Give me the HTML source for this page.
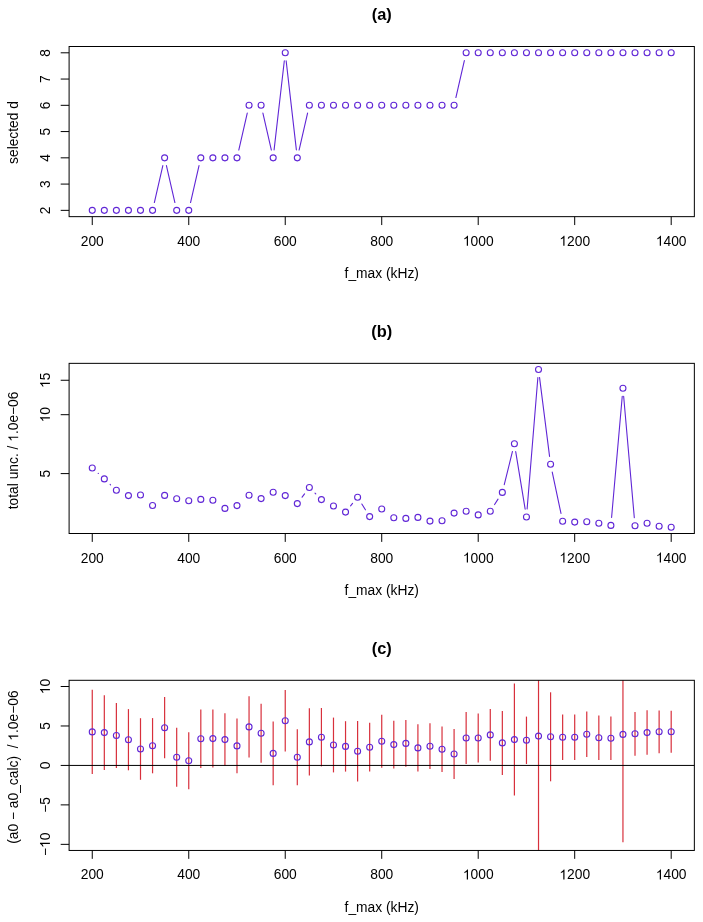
<!DOCTYPE html>
<html><head><meta charset="utf-8"><style>
html,body{margin:0;padding:0;background:#fff;width:703px;height:922px;overflow:hidden}
svg{display:block;will-change:transform}
text{font-family:"Liberation Sans",sans-serif}
</style></head><body>
<svg width="703" height="922" viewBox="0 0 703 922">
<rect width="703" height="922" fill="#fff"/>
<g stroke="#6026d6" stroke-width="1.1" fill="none" stroke-linecap="round">
<line x1="154.35" y1="202.55" x2="162.83" y2="165.63"/>
<line x1="166.42" y1="165.63" x2="174.89" y2="202.55"/>
<line x1="190.54" y1="202.55" x2="199.02" y2="165.63"/>
<line x1="238.78" y1="150.04" x2="247.26" y2="113.11"/>
<line x1="262.9" y1="113.11" x2="271.38" y2="150.04"/>
<line x1="274.09" y1="149.88" x2="284.32" y2="60.75"/>
<line x1="286.15" y1="60.75" x2="296.38" y2="149.88"/>
<line x1="299.09" y1="150.04" x2="307.57" y2="113.11"/>
<line x1="455.88" y1="97.52" x2="464.36" y2="60.6"/>
<circle cx="92.26" cy="210.35" r="3.0"/>
<circle cx="104.32" cy="210.35" r="3.0"/>
<circle cx="116.38" cy="210.35" r="3.0"/>
<circle cx="128.44" cy="210.35" r="3.0"/>
<circle cx="140.5" cy="210.35" r="3.0"/>
<circle cx="152.56" cy="210.35" r="3.0"/>
<circle cx="164.62" cy="157.83" r="3.0"/>
<circle cx="176.69" cy="210.35" r="3.0"/>
<circle cx="188.75" cy="210.35" r="3.0"/>
<circle cx="200.81" cy="157.83" r="3.0"/>
<circle cx="212.87" cy="157.83" r="3.0"/>
<circle cx="224.93" cy="157.83" r="3.0"/>
<circle cx="236.99" cy="157.83" r="3.0"/>
<circle cx="249.05" cy="105.32" r="3.0"/>
<circle cx="261.11" cy="105.32" r="3.0"/>
<circle cx="273.17" cy="157.83" r="3.0"/>
<circle cx="285.24" cy="52.8" r="3.0"/>
<circle cx="297.3" cy="157.83" r="3.0"/>
<circle cx="309.36" cy="105.32" r="3.0"/>
<circle cx="321.42" cy="105.32" r="3.0"/>
<circle cx="333.48" cy="105.32" r="3.0"/>
<circle cx="345.54" cy="105.32" r="3.0"/>
<circle cx="357.6" cy="105.32" r="3.0"/>
<circle cx="369.66" cy="105.32" r="3.0"/>
<circle cx="381.73" cy="105.32" r="3.0"/>
<circle cx="393.79" cy="105.32" r="3.0"/>
<circle cx="405.85" cy="105.32" r="3.0"/>
<circle cx="417.91" cy="105.32" r="3.0"/>
<circle cx="429.97" cy="105.32" r="3.0"/>
<circle cx="442.03" cy="105.32" r="3.0"/>
<circle cx="454.09" cy="105.32" r="3.0"/>
<circle cx="466.15" cy="52.8" r="3.0"/>
<circle cx="478.21" cy="52.8" r="3.0"/>
<circle cx="490.28" cy="52.8" r="3.0"/>
<circle cx="502.34" cy="52.8" r="3.0"/>
<circle cx="514.4" cy="52.8" r="3.0"/>
<circle cx="526.46" cy="52.8" r="3.0"/>
<circle cx="538.52" cy="52.8" r="3.0"/>
<circle cx="550.58" cy="52.8" r="3.0"/>
<circle cx="562.64" cy="52.8" r="3.0"/>
<circle cx="574.7" cy="52.8" r="3.0"/>
<circle cx="586.76" cy="52.8" r="3.0"/>
<circle cx="598.83" cy="52.8" r="3.0"/>
<circle cx="610.89" cy="52.8" r="3.0"/>
<circle cx="622.95" cy="52.8" r="3.0"/>
<circle cx="635.01" cy="52.8" r="3.0"/>
<circle cx="647.07" cy="52.8" r="3.0"/>
<circle cx="659.13" cy="52.8" r="3.0"/>
<circle cx="671.19" cy="52.8" r="3.0"/>
</g>
<rect x="69.1" y="46.5" width="625.25" height="170.15" fill="none" stroke="#000" stroke-width="1.0"/>
<g stroke="#000" stroke-width="1">
<line x1="92.26" y1="216.65" x2="92.26" y2="225.05"/>
<line x1="188.75" y1="216.65" x2="188.75" y2="225.05"/>
<line x1="285.24" y1="216.65" x2="285.24" y2="225.05"/>
<line x1="381.73" y1="216.65" x2="381.73" y2="225.05"/>
<line x1="478.21" y1="216.65" x2="478.21" y2="225.05"/>
<line x1="574.7" y1="216.65" x2="574.7" y2="225.05"/>
<line x1="671.19" y1="216.65" x2="671.19" y2="225.05"/>
<line x1="60.7" y1="210.35" x2="69.1" y2="210.35"/>
<line x1="60.7" y1="184.09" x2="69.1" y2="184.09"/>
<line x1="60.7" y1="157.83" x2="69.1" y2="157.83"/>
<line x1="60.7" y1="131.57" x2="69.1" y2="131.57"/>
<line x1="60.7" y1="105.32" x2="69.1" y2="105.32"/>
<line x1="60.7" y1="79.06" x2="69.1" y2="79.06"/>
<line x1="60.7" y1="52.8" x2="69.1" y2="52.8"/>
</g>
<g font-family="Liberation Sans" font-size="13.8" fill="#000">
<g transform="translate(92.26,245.65)"><text x="-11.51" y="0">200</text></g>
<g transform="translate(188.75,245.65)"><text x="-11.51" y="0">400</text></g>
<g transform="translate(285.24,245.65)"><text x="-11.51" y="0">600</text></g>
<g transform="translate(381.73,245.65)"><text x="-11.51" y="0">800</text></g>
<g transform="translate(478.21,245.65)"><text x="-15.35" y="0"> 000</text><path d="M763 0H583V1147Q518 1085 412.5 1023Q307 961 223 930V1104Q374 1175 487 1276Q600 1377 647 1472H763V0Z" transform="translate(-15.35,0) scale(0.006738,-0.006738)"/></g>
<g transform="translate(574.7,245.65)"><text x="-15.35" y="0"> 200</text><path d="M763 0H583V1147Q518 1085 412.5 1023Q307 961 223 930V1104Q374 1175 487 1276Q600 1377 647 1472H763V0Z" transform="translate(-15.35,0) scale(0.006738,-0.006738)"/></g>
<g transform="translate(671.19,245.65)"><text x="-15.35" y="0"> 400</text><path d="M763 0H583V1147Q518 1085 412.5 1023Q307 961 223 930V1104Q374 1175 487 1276Q600 1377 647 1472H763V0Z" transform="translate(-15.35,0) scale(0.006738,-0.006738)"/></g>
<g transform="translate(49.9,210.35) rotate(-90)"><text x="-3.84" y="0">2</text></g>
<g transform="translate(49.9,184.09) rotate(-90)"><text x="-3.84" y="0">3</text></g>
<g transform="translate(49.9,157.83) rotate(-90)"><text x="-3.84" y="0">4</text></g>
<g transform="translate(49.9,131.57) rotate(-90)"><text x="-3.84" y="0">5</text></g>
<g transform="translate(49.9,105.32) rotate(-90)"><text x="-3.84" y="0">6</text></g>
<g transform="translate(49.9,79.06) rotate(-90)"><text x="-3.84" y="0">7</text></g>
<g transform="translate(49.9,52.8) rotate(-90)"><text x="-3.84" y="0">8</text></g>
<g transform="translate(381.73,277.95)"><text x="-37.19" y="0">f_max (kHz)</text></g>
<g transform="translate(18.2,132.5) rotate(-90)"><text x="-31.45" y="0">selected d</text></g>
</g>
<text x="381.73" y="19.6" font-family="Liberation Sans" font-weight="bold" font-size="16.4" text-anchor="middle">(a)</text>
<g stroke="#6026d6" stroke-width="1.1" fill="none" stroke-linecap="round">
<line x1="98.19" y1="473.36" x2="98.38" y2="473.54"/>
<line x1="110.13" y1="484.4" x2="110.57" y2="484.8"/>
<line x1="302.09" y1="497.2" x2="304.56" y2="493.9"/>
<line x1="315.01" y1="493.17" x2="315.77" y2="493.93"/>
<line x1="350.57" y1="505.88" x2="352.57" y2="503.42"/>
<line x1="361.83" y1="503.99" x2="365.44" y2="509.81"/>
<line x1="494.58" y1="504.56" x2="498.03" y2="499.14"/>
<line x1="504.26" y1="484.63" x2="512.47" y2="451.47"/>
<line x1="515.7" y1="451.59" x2="525.16" y2="509.11"/>
<line x1="527.11" y1="509.03" x2="537.87" y2="377.47"/>
<line x1="539.53" y1="377.44" x2="549.57" y2="456.36"/>
<line x1="552.24" y1="472.13" x2="560.99" y2="513.47"/>
<line x1="611.59" y1="517.43" x2="622.25" y2="396.27"/>
<line x1="623.65" y1="396.27" x2="634.31" y2="517.73"/>
<circle cx="92.26" cy="468" r="3.0"/>
<circle cx="104.32" cy="478.9" r="3.0"/>
<circle cx="116.38" cy="490.3" r="3.0"/>
<circle cx="128.44" cy="495.6" r="3.0"/>
<circle cx="140.5" cy="495" r="3.0"/>
<circle cx="152.56" cy="505.5" r="3.0"/>
<circle cx="164.62" cy="495.4" r="3.0"/>
<circle cx="176.69" cy="498.7" r="3.0"/>
<circle cx="188.75" cy="500.7" r="3.0"/>
<circle cx="200.81" cy="499.4" r="3.0"/>
<circle cx="212.87" cy="500.2" r="3.0"/>
<circle cx="224.93" cy="508.4" r="3.0"/>
<circle cx="236.99" cy="505.6" r="3.0"/>
<circle cx="249.05" cy="495.3" r="3.0"/>
<circle cx="261.11" cy="498.6" r="3.0"/>
<circle cx="273.17" cy="492.2" r="3.0"/>
<circle cx="285.24" cy="495.6" r="3.0"/>
<circle cx="297.3" cy="503.6" r="3.0"/>
<circle cx="309.36" cy="487.5" r="3.0"/>
<circle cx="321.42" cy="499.6" r="3.0"/>
<circle cx="333.48" cy="506" r="3.0"/>
<circle cx="345.54" cy="512.1" r="3.0"/>
<circle cx="357.6" cy="497.2" r="3.0"/>
<circle cx="369.66" cy="516.6" r="3.0"/>
<circle cx="381.73" cy="509" r="3.0"/>
<circle cx="393.79" cy="517.8" r="3.0"/>
<circle cx="405.85" cy="518.4" r="3.0"/>
<circle cx="417.91" cy="517.4" r="3.0"/>
<circle cx="429.97" cy="521.1" r="3.0"/>
<circle cx="442.03" cy="520.8" r="3.0"/>
<circle cx="454.09" cy="513.1" r="3.0"/>
<circle cx="466.15" cy="511.3" r="3.0"/>
<circle cx="478.21" cy="514.9" r="3.0"/>
<circle cx="490.28" cy="511.3" r="3.0"/>
<circle cx="502.34" cy="492.4" r="3.0"/>
<circle cx="514.4" cy="443.7" r="3.0"/>
<circle cx="526.46" cy="517" r="3.0"/>
<circle cx="538.52" cy="369.5" r="3.0"/>
<circle cx="550.58" cy="464.3" r="3.0"/>
<circle cx="562.64" cy="521.3" r="3.0"/>
<circle cx="574.7" cy="522.1" r="3.0"/>
<circle cx="586.76" cy="521.7" r="3.0"/>
<circle cx="598.83" cy="523.3" r="3.0"/>
<circle cx="610.89" cy="525.4" r="3.0"/>
<circle cx="622.95" cy="388.3" r="3.0"/>
<circle cx="635.01" cy="525.7" r="3.0"/>
<circle cx="647.07" cy="523.2" r="3.0"/>
<circle cx="659.13" cy="526.3" r="3.0"/>
<circle cx="671.19" cy="527.3" r="3.0"/>
</g>
<rect x="69.1" y="363.35" width="625.25" height="170.15" fill="none" stroke="#000" stroke-width="1.0"/>
<g stroke="#000" stroke-width="1">
<line x1="92.26" y1="533.5" x2="92.26" y2="541.9"/>
<line x1="188.75" y1="533.5" x2="188.75" y2="541.9"/>
<line x1="285.24" y1="533.5" x2="285.24" y2="541.9"/>
<line x1="381.73" y1="533.5" x2="381.73" y2="541.9"/>
<line x1="478.21" y1="533.5" x2="478.21" y2="541.9"/>
<line x1="574.7" y1="533.5" x2="574.7" y2="541.9"/>
<line x1="671.19" y1="533.5" x2="671.19" y2="541.9"/>
<line x1="60.7" y1="473.6" x2="69.1" y2="473.6"/>
<line x1="60.7" y1="414.7" x2="69.1" y2="414.7"/>
<line x1="60.7" y1="380.25" x2="69.1" y2="380.25"/>
</g>
<g font-family="Liberation Sans" font-size="13.8" fill="#000">
<g transform="translate(92.26,562.5)"><text x="-11.51" y="0">200</text></g>
<g transform="translate(188.75,562.5)"><text x="-11.51" y="0">400</text></g>
<g transform="translate(285.24,562.5)"><text x="-11.51" y="0">600</text></g>
<g transform="translate(381.73,562.5)"><text x="-11.51" y="0">800</text></g>
<g transform="translate(478.21,562.5)"><text x="-15.35" y="0"> 000</text><path d="M763 0H583V1147Q518 1085 412.5 1023Q307 961 223 930V1104Q374 1175 487 1276Q600 1377 647 1472H763V0Z" transform="translate(-15.35,0) scale(0.006738,-0.006738)"/></g>
<g transform="translate(574.7,562.5)"><text x="-15.35" y="0"> 200</text><path d="M763 0H583V1147Q518 1085 412.5 1023Q307 961 223 930V1104Q374 1175 487 1276Q600 1377 647 1472H763V0Z" transform="translate(-15.35,0) scale(0.006738,-0.006738)"/></g>
<g transform="translate(671.19,562.5)"><text x="-15.35" y="0"> 400</text><path d="M763 0H583V1147Q518 1085 412.5 1023Q307 961 223 930V1104Q374 1175 487 1276Q600 1377 647 1472H763V0Z" transform="translate(-15.35,0) scale(0.006738,-0.006738)"/></g>
<g transform="translate(49.9,473.6) rotate(-90)"><text x="-3.84" y="0">5</text></g>
<g transform="translate(49.9,414.7) rotate(-90)"><text x="-7.67" y="0"> 0</text><path d="M763 0H583V1147Q518 1085 412.5 1023Q307 961 223 930V1104Q374 1175 487 1276Q600 1377 647 1472H763V0Z" transform="translate(-7.67,0) scale(0.006738,-0.006738)"/></g>
<g transform="translate(49.9,380.25) rotate(-90)"><text x="-7.67" y="0"> 5</text><path d="M763 0H583V1147Q518 1085 412.5 1023Q307 961 223 930V1104Q374 1175 487 1276Q600 1377 647 1472H763V0Z" transform="translate(-7.67,0) scale(0.006738,-0.006738)"/></g>
<g transform="translate(381.73,594.8)"><text x="-37.19" y="0">f_max (kHz)</text></g>
<g transform="translate(18.2,450.4) rotate(-90)"><text x="-58.89" y="0">total unc. /  .0e−06</text><path d="M763 0H583V1147Q518 1085 412.5 1023Q307 961 223 930V1104Q374 1175 487 1276Q600 1377 647 1472H763V0Z" transform="translate(8.62,0) scale(0.006738,-0.006738)"/></g>
</g>
<text x="381.73" y="337.15" font-family="Liberation Sans" font-weight="bold" font-size="16.4" text-anchor="middle">(b)</text>
<g stroke="#d8303c" stroke-width="1.2" fill="none">
<line x1="92.26" y1="689.8" x2="92.26" y2="774"/>
<line x1="104.32" y1="695.3" x2="104.32" y2="769.9"/>
<line x1="116.38" y1="703.1" x2="116.38" y2="767.9"/>
<line x1="128.44" y1="709.1" x2="128.44" y2="770.3"/>
<line x1="140.5" y1="718.2" x2="140.5" y2="779.8"/>
<line x1="152.56" y1="718.1" x2="152.56" y2="773.3"/>
<line x1="164.62" y1="697.1" x2="164.62" y2="758.3"/>
<line x1="176.69" y1="727.7" x2="176.69" y2="786.7"/>
<line x1="188.75" y1="732.3" x2="188.75" y2="789.3"/>
<line x1="200.81" y1="709.5" x2="200.81" y2="768.1"/>
<line x1="212.87" y1="709.6" x2="212.87" y2="767.6"/>
<line x1="224.93" y1="713.3" x2="224.93" y2="765.9"/>
<line x1="236.99" y1="718.5" x2="236.99" y2="773.3"/>
<line x1="249.05" y1="696.2" x2="249.05" y2="757.6"/>
<line x1="261.11" y1="703.8" x2="261.11" y2="762.8"/>
<line x1="273.17" y1="721.5" x2="273.17" y2="785.3"/>
<line x1="285.24" y1="690" x2="285.24" y2="751.6"/>
<line x1="297.3" y1="729.2" x2="297.3" y2="785.2"/>
<line x1="309.36" y1="708.2" x2="309.36" y2="775.6"/>
<line x1="321.42" y1="708" x2="321.42" y2="766.4"/>
<line x1="333.48" y1="717.6" x2="333.48" y2="772.4"/>
<line x1="345.54" y1="721.2" x2="345.54" y2="771.6"/>
<line x1="357.6" y1="721" x2="357.6" y2="781.4"/>
<line x1="369.66" y1="722.8" x2="369.66" y2="771.6"/>
<line x1="381.73" y1="714.7" x2="381.73" y2="767.7"/>
<line x1="393.79" y1="720.75" x2="393.79" y2="768.45"/>
<line x1="405.85" y1="720.05" x2="405.85" y2="766.75"/>
<line x1="417.91" y1="724.2" x2="417.91" y2="771.6"/>
<line x1="429.97" y1="723.3" x2="429.97" y2="769.1"/>
<line x1="442.03" y1="726.45" x2="442.03" y2="771.95"/>
<line x1="454.09" y1="729.1" x2="454.09" y2="778.9"/>
<line x1="466.15" y1="712.1" x2="466.15" y2="763.9"/>
<line x1="478.21" y1="713.6" x2="478.21" y2="762.4"/>
<line x1="490.28" y1="709.05" x2="490.28" y2="760.75"/>
<line x1="502.34" y1="710.9" x2="502.34" y2="774.9"/>
<line x1="514.4" y1="683.6" x2="514.4" y2="795.6"/>
<line x1="526.46" y1="716.6" x2="526.46" y2="764"/>
<line x1="538.52" y1="680.3" x2="538.52" y2="850.45"/>
<line x1="550.58" y1="692.3" x2="550.58" y2="781.3"/>
<line x1="562.64" y1="714.6" x2="562.64" y2="760"/>
<line x1="574.7" y1="714.6" x2="574.7" y2="760"/>
<line x1="586.76" y1="711.45" x2="586.76" y2="756.95"/>
<line x1="598.83" y1="715.5" x2="598.83" y2="760.1"/>
<line x1="610.89" y1="716.5" x2="610.89" y2="760.1"/>
<line x1="622.95" y1="680.3" x2="622.95" y2="842.2"/>
<line x1="635.01" y1="711.95" x2="635.01" y2="755.65"/>
<line x1="647.07" y1="710.35" x2="647.07" y2="754.85"/>
<line x1="659.13" y1="710.45" x2="659.13" y2="753.15"/>
<line x1="671.19" y1="710.75" x2="671.19" y2="752.85"/>
</g>
<line x1="69.1" y1="765.43" x2="694.35" y2="765.43" stroke="#000" stroke-width="1"/>
<g stroke="#6026d6" stroke-width="1.1" fill="none" stroke-linecap="round">
<circle cx="92.26" cy="731.9" r="3.0"/>
<circle cx="104.32" cy="732.6" r="3.0"/>
<circle cx="116.38" cy="735.5" r="3.0"/>
<circle cx="128.44" cy="739.7" r="3.0"/>
<circle cx="140.5" cy="749" r="3.0"/>
<circle cx="152.56" cy="745.7" r="3.0"/>
<circle cx="164.62" cy="727.7" r="3.0"/>
<circle cx="176.69" cy="757.2" r="3.0"/>
<circle cx="188.75" cy="760.8" r="3.0"/>
<circle cx="200.81" cy="738.8" r="3.0"/>
<circle cx="212.87" cy="738.6" r="3.0"/>
<circle cx="224.93" cy="739.6" r="3.0"/>
<circle cx="236.99" cy="745.9" r="3.0"/>
<circle cx="249.05" cy="726.9" r="3.0"/>
<circle cx="261.11" cy="733.3" r="3.0"/>
<circle cx="273.17" cy="753.4" r="3.0"/>
<circle cx="285.24" cy="720.8" r="3.0"/>
<circle cx="297.3" cy="757.2" r="3.0"/>
<circle cx="309.36" cy="741.9" r="3.0"/>
<circle cx="321.42" cy="737.2" r="3.0"/>
<circle cx="333.48" cy="745" r="3.0"/>
<circle cx="345.54" cy="746.4" r="3.0"/>
<circle cx="357.6" cy="751.2" r="3.0"/>
<circle cx="369.66" cy="747.2" r="3.0"/>
<circle cx="381.73" cy="741.2" r="3.0"/>
<circle cx="393.79" cy="744.6" r="3.0"/>
<circle cx="405.85" cy="743.4" r="3.0"/>
<circle cx="417.91" cy="747.9" r="3.0"/>
<circle cx="429.97" cy="746.2" r="3.0"/>
<circle cx="442.03" cy="749.2" r="3.0"/>
<circle cx="454.09" cy="754" r="3.0"/>
<circle cx="466.15" cy="738" r="3.0"/>
<circle cx="478.21" cy="738" r="3.0"/>
<circle cx="490.28" cy="734.9" r="3.0"/>
<circle cx="502.34" cy="742.9" r="3.0"/>
<circle cx="514.4" cy="739.6" r="3.0"/>
<circle cx="526.46" cy="740.3" r="3.0"/>
<circle cx="538.52" cy="736.1" r="3.0"/>
<circle cx="550.58" cy="736.8" r="3.0"/>
<circle cx="562.64" cy="737.3" r="3.0"/>
<circle cx="574.7" cy="737.3" r="3.0"/>
<circle cx="586.76" cy="734.2" r="3.0"/>
<circle cx="598.83" cy="737.8" r="3.0"/>
<circle cx="610.89" cy="738.3" r="3.0"/>
<circle cx="622.95" cy="734.4" r="3.0"/>
<circle cx="635.01" cy="733.8" r="3.0"/>
<circle cx="647.07" cy="732.6" r="3.0"/>
<circle cx="659.13" cy="731.8" r="3.0"/>
<circle cx="671.19" cy="731.8" r="3.0"/>
</g>
<rect x="69.1" y="680.3" width="625.25" height="170.15" fill="none" stroke="#000" stroke-width="1.0"/>
<g stroke="#000" stroke-width="1">
<line x1="92.26" y1="850.45" x2="92.26" y2="858.85"/>
<line x1="188.75" y1="850.45" x2="188.75" y2="858.85"/>
<line x1="285.24" y1="850.45" x2="285.24" y2="858.85"/>
<line x1="381.73" y1="850.45" x2="381.73" y2="858.85"/>
<line x1="478.21" y1="850.45" x2="478.21" y2="858.85"/>
<line x1="574.7" y1="850.45" x2="574.7" y2="858.85"/>
<line x1="671.19" y1="850.45" x2="671.19" y2="858.85"/>
<line x1="60.7" y1="844.35" x2="69.1" y2="844.35"/>
<line x1="60.7" y1="804.89" x2="69.1" y2="804.89"/>
<line x1="60.7" y1="765.43" x2="69.1" y2="765.43"/>
<line x1="60.7" y1="725.97" x2="69.1" y2="725.97"/>
<line x1="60.7" y1="686.5" x2="69.1" y2="686.5"/>
</g>
<g font-family="Liberation Sans" font-size="13.8" fill="#000">
<g transform="translate(92.26,879.45)"><text x="-11.51" y="0">200</text></g>
<g transform="translate(188.75,879.45)"><text x="-11.51" y="0">400</text></g>
<g transform="translate(285.24,879.45)"><text x="-11.51" y="0">600</text></g>
<g transform="translate(381.73,879.45)"><text x="-11.51" y="0">800</text></g>
<g transform="translate(478.21,879.45)"><text x="-15.35" y="0"> 000</text><path d="M763 0H583V1147Q518 1085 412.5 1023Q307 961 223 930V1104Q374 1175 487 1276Q600 1377 647 1472H763V0Z" transform="translate(-15.35,0) scale(0.006738,-0.006738)"/></g>
<g transform="translate(574.7,879.45)"><text x="-15.35" y="0"> 200</text><path d="M763 0H583V1147Q518 1085 412.5 1023Q307 961 223 930V1104Q374 1175 487 1276Q600 1377 647 1472H763V0Z" transform="translate(-15.35,0) scale(0.006738,-0.006738)"/></g>
<g transform="translate(671.19,879.45)"><text x="-15.35" y="0"> 400</text><path d="M763 0H583V1147Q518 1085 412.5 1023Q307 961 223 930V1104Q374 1175 487 1276Q600 1377 647 1472H763V0Z" transform="translate(-15.35,0) scale(0.006738,-0.006738)"/></g>
<g transform="translate(49.9,844.35) rotate(-90)"><text x="-11.7" y="0">− 0</text><path d="M763 0H583V1147Q518 1085 412.5 1023Q307 961 223 930V1104Q374 1175 487 1276Q600 1377 647 1472H763V0Z" transform="translate(-3.65,0) scale(0.006738,-0.006738)"/></g>
<g transform="translate(49.9,804.89) rotate(-90)"><text x="-7.87" y="0">−5</text></g>
<g transform="translate(49.9,765.43) rotate(-90)"><text x="-3.84" y="0">0</text></g>
<g transform="translate(49.9,725.97) rotate(-90)"><text x="-3.84" y="0">5</text></g>
<g transform="translate(49.9,686.5) rotate(-90)"><text x="-7.67" y="0"> 0</text><path d="M763 0H583V1147Q518 1085 412.5 1023Q307 961 223 930V1104Q374 1175 487 1276Q600 1377 647 1472H763V0Z" transform="translate(-7.67,0) scale(0.006738,-0.006738)"/></g>
<g transform="translate(381.73,911.75)"><text x="-37.19" y="0">f_max (kHz)</text></g>
<g transform="translate(18.2,767.1) rotate(-90)"><text x="-76.72" y="0">(a0 − a0_calc)  /  .0e−06</text><path d="M763 0H583V1147Q518 1085 412.5 1023Q307 961 223 930V1104Q374 1175 487 1276Q600 1377 647 1472H763V0Z" transform="translate(26.45,0) scale(0.006738,-0.006738)"/></g>
</g>
<text x="381.73" y="654" font-family="Liberation Sans" font-weight="bold" font-size="16.4" text-anchor="middle">(c)</text>
</svg>
</body></html>
